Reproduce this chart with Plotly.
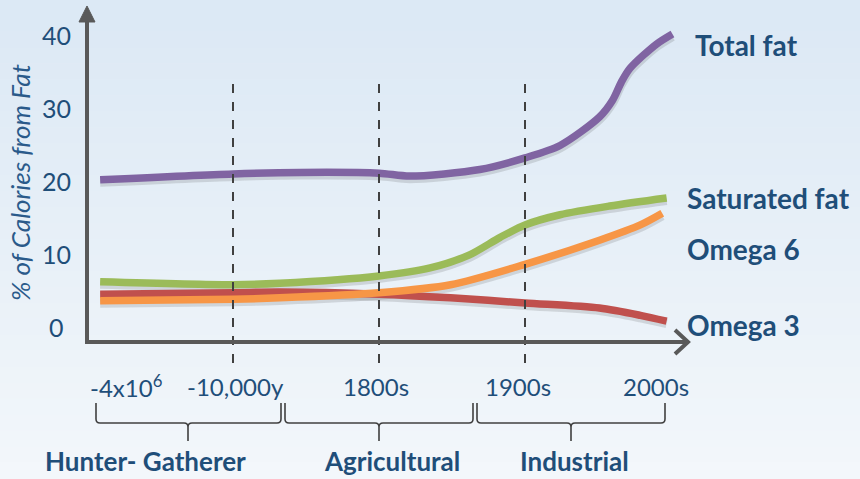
import plotly.graph_objects as go

# ---- data (x in period units: 0=-4x10^6, 1=-10,000y, 2=1800s, 3=1900s, 4=2000s)
tick_labels = ["-4x10<sup>6</sup>", "-10,000y", "1800s", "1900s", "2000s"]
y_ticks = [0, 10, 20, 30, 40]
series_names = ["Total fat", "Saturated fat", "Omega 6", "Omega 3"]

total_x = [0.09, 1.0, 1.46, 2.0, 2.21, 2.69, 3.0, 3.24, 3.51, 3.60, 3.66, 3.72, 3.90, 4.01]
total_y = [20.2, 21.0, 21.2, 21.1, 20.7, 21.6, 23.2, 24.9, 28.8, 31.1, 33.6, 35.5, 38.8, 40.2]

sat_x = [0.09, 1.0, 1.32, 2.0, 2.35, 2.62, 2.83, 3.0, 3.24, 3.58, 3.97]
sat_y = [6.2, 5.8, 6.0, 7.0, 8.1, 9.9, 12.3, 14.0, 15.4, 16.6, 17.7]

o6_x = [0.09, 1.0, 1.32, 2.0, 2.49, 3.0, 3.51, 3.79, 3.94]
o6_y = [3.6, 3.8, 4.0, 4.7, 5.8, 8.6, 11.9, 14.0, 15.6]

o3_x = [0.09, 1.0, 1.32, 2.0, 2.49, 3.0, 3.51, 3.79, 3.97]
o3_y = [4.5, 4.7, 4.8, 4.5, 4.0, 3.3, 2.6, 1.6, 0.8]

eras = ["Hunter- Gatherer", "Agricultural", "Industrial"]

W, H = 860, 479
X0, DX = 87.0, 146.0          # pixel of period 0, pixels per period
Y0, DY = 327.0, 7.29          # pixel of value 0, pixels per unit
xr = [(0 - X0) / DX, (W - X0) / DX]
yr = [(Y0 - H) / DY, (Y0 - 0) / DY]

def px(p):
    return p / W

def py(p):
    return 1 - p / H

fig = go.Figure()

# background gradient
top = (220, 233, 245)
bot = (243, 247, 251)
n = 30
for k in range(n):
    t = k / (n - 1)
    c = tuple(int(top[j] + (bot[j] - top[j]) * t) for j in range(3))
    fig.add_shape(type="rect", xref="paper", yref="paper",
                  x0=0, x1=1, y0=1 - (k + 1) / n, y1=1 - k / n + 0.001,
                  fillcolor="rgb(%d,%d,%d)" % c, line_width=0, layer="below")

all_series = [(total_x, total_y), (sat_x, sat_y), (o3_x, o3_y), (o6_x, o6_y)]
order_names = ["Total fat", "Saturated fat", "Omega 3", "Omega 6"]
order_colors = ["#8064a2", "#9bbb59", "#c0504d", "#f79646"]

# shadows
for (xs, ys) in all_series:
    fig.add_trace(go.Scatter(x=xs, y=[v - 0.35 for v in ys], mode="lines",
                             line=dict(color="rgba(60,60,60,0.16)", width=9, shape="spline", smoothing=0.8),
                             hoverinfo="skip", showlegend=False))
for (xs, ys), nm, col in zip(all_series, order_names, order_colors):
    fig.add_trace(go.Scatter(x=xs, y=ys, mode="lines", name=nm,
                             line=dict(color=col, width=7.5, shape="spline", smoothing=0.8),
                             showlegend=False))

axis_col = "#595959"
# dashed verticals at period 1,2,3
for xv in [1, 2, 3]:
    fig.add_shape(type="line", xref="x", yref="paper", x0=xv, x1=xv,
                  y0=py(363), y1=py(77), line=dict(color="#404040", width=2, dash="dash"))

# axes
fig.add_shape(type="line", xref="paper", yref="paper", x0=px(87), x1=px(87),
              y0=py(344), y1=py(20), line=dict(color=axis_col, width=4))
fig.add_shape(type="path", xref="paper", yref="paper",
              path="M %f %f L %f %f L %f %f Z" % (px(79), py(22), px(95), py(22), px(87), py(6)),
              fillcolor=axis_col, line=dict(color=axis_col, width=1))
fig.add_shape(type="line", xref="paper", yref="paper", x0=px(85), x1=px(687),
              y0=py(342), y1=py(342), line=dict(color=axis_col, width=4))
fig.add_shape(type="path", xref="paper", yref="paper",
              path="M %f %f L %f %f L %f %f" % (px(675), py(330), px(688), py(342), px(675), py(354)),
              line=dict(color=axis_col, width=4))

text_col = "#1f4e79"
# y tick labels
for v in y_ticks:
    fig.add_annotation(x=px(56), y=v, xref="paper", yref="y", text=str(v), showarrow=False,
                       xanchor="center", yanchor="middle",
                       font=dict(family="Lato", size=25, color=text_col))
# x tick labels
xt_pos = [0.27, 1.02, 1.98, 2.95, 3.9]
for xv, lab in zip(xt_pos, tick_labels):
    fig.add_annotation(x=xv, y=py(386), xref="x", yref="paper", text=lab, showarrow=False,
                       xanchor="center", yanchor="middle",
                       font=dict(family="Lato", size=24, color=text_col))

# y title
fig.add_annotation(x=px(20), y=py(183), xref="paper", yref="paper",
                   text="<i>% of Calories from Fat</i>", textangle=-90, showarrow=False,
                   xanchor="center", yanchor="middle",
                   font=dict(family="Lato", size=26, color="#2a5a8a"))

# series labels
lab_pos = {"Total fat": (693, 45), "Saturated fat": (685, 198), "Omega 6": (685, 249), "Omega 3": (685, 325)}
for nm in series_names:
    xx, yy = lab_pos[nm]
    fig.add_annotation(x=px(xx), y=py(yy), xref="paper", yref="paper", text="<b>%s</b>" % nm,
                       showarrow=False, xanchor="left", yanchor="middle",
                       font=dict(family="Lato", size=28, color=text_col))

# brackets
brackets = [(96, 281, 188), (285, 473, 379), (477, 665, 571)]
for (a, b, c) in brackets:
    ytop, ymid, ytip, r = 403, 423, 441, 4
    path = ("M {a} {yt} L {a} {ym1} Q {a} {ym} {a2} {ym} L {c1} {ym} Q {c} {ym} {c} {ym2} L {c} {tip} "
            "M {c} {ym2} Q {c} {ym} {c2} {ym} L {b2} {ym} Q {b} {ym} {b} {ym1} L {b} {yt}").format(
        a=px(a), b=px(b), c=px(c), a2=px(a + r), b2=px(b - r), c1=px(c - r), c2=px(c + r),
        yt=py(ytop), ym=py(ymid), ym1=py(ymid - r), ym2=py(ymid + r), tip=py(ytip))
    fig.add_shape(type="path", xref="paper", yref="paper", path=path,
                  line=dict(color="#404040", width=1.6))

era_pos = [(145, 461), (392, 461), (574, 461)]
for nm, (xx, yy) in zip(eras, era_pos):
    fig.add_annotation(x=px(xx), y=py(yy), xref="paper", yref="paper", text="<b>%s</b>" % nm,
                       showarrow=False, xanchor="center", yanchor="middle",
                       font=dict(family="Lato", size=26, color=text_col))

fig.update_layout(
    width=W, height=H, margin=dict(l=0, r=0, t=0, b=0),
    paper_bgcolor="#e8f0f8", plot_bgcolor="rgba(0,0,0,0)",
    xaxis=dict(range=xr, visible=False, fixedrange=True),
    yaxis=dict(range=yr, visible=False, fixedrange=True),
    showlegend=False,
)

fig.write_html("out.html", config={"displayModeBar": False},
               post_script="document.body.style.margin='0';document.body.style.padding='0';document.body.style.overflow='hidden';")
